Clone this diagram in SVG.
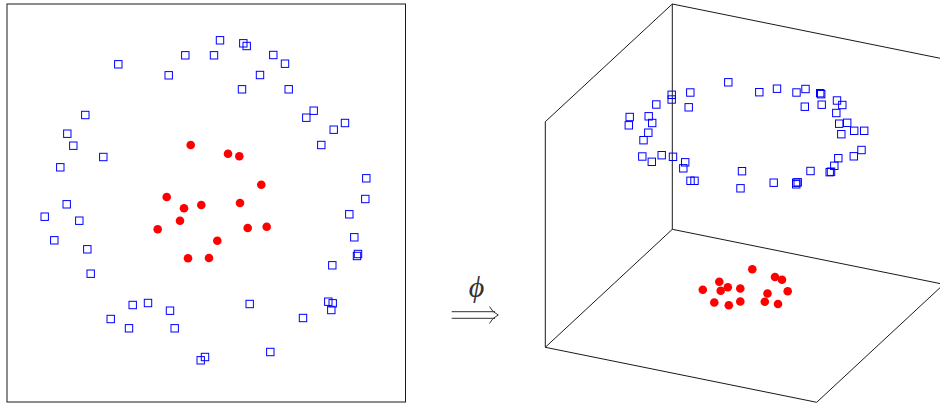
<svg xmlns="http://www.w3.org/2000/svg" width="940" height="403" viewBox="0 0 940 403">
<style>
.sq{fill:none;stroke:#0000ff;stroke-width:1}
.dot{fill:#ff0000;stroke:none}
.ln{fill:none;stroke:#1a1a1a;stroke-width:1}
.arr{fill:none;stroke:#333;stroke-width:1}
.phi{font-family:"Liberation Serif","DejaVu Serif",serif;font-style:italic;font-size:30px;fill:#333}
</style>
<defs>
<rect id="s" x="-3.7" y="-3.7" width="7.4" height="7.4" class="sq"/>
<circle id="d" r="4.3" class="dot"/>
</defs>
<rect width="940" height="403" fill="#fff"/>
<g id="input-space">
<rect class="ln" x="7" y="4" width="398.5" height="398"/>
<g id="input-squares">
<use href="#s" x="220" y="40.3"/><use href="#s" x="243.3" y="43.3"/><use href="#s" x="246.7" y="46"/>
<use href="#s" x="185.3" y="55.3"/><use href="#s" x="214" y="55.3"/><use href="#s" x="273.3" y="55"/>
<use href="#s" x="285" y="63.7"/><use href="#s" x="118.3" y="64.3"/><use href="#s" x="168.7" y="75.3"/>
<use href="#s" x="260" y="75"/><use href="#s" x="242" y="89.3"/><use href="#s" x="288.7" y="89.3"/>
<use href="#s" x="85.3" y="115"/><use href="#s" x="313.7" y="110.7"/><use href="#s" x="306.3" y="117.7"/>
<use href="#s" x="345" y="123"/><use href="#s" x="333.7" y="129.7"/><use href="#s" x="67.3" y="133.7"/>
<use href="#s" x="73.3" y="145.7"/><use href="#s" x="321.3" y="145"/><use href="#s" x="103.3" y="157"/>
<use href="#s" x="60.3" y="167.3"/><use href="#s" x="366.3" y="178.3"/><use href="#s" x="365.3" y="199"/>
<use href="#s" x="66.7" y="204.3"/><use href="#s" x="349.3" y="214.3"/><use href="#s" x="44.7" y="216.7"/>
<use href="#s" x="79.3" y="220.7"/><use href="#s" x="54.3" y="240.3"/><use href="#s" x="354.3" y="237.3"/>
<use href="#s" x="87.3" y="249.3"/><use href="#s" x="358" y="254"/><use href="#s" x="357" y="256"/>
<use href="#s" x="332.3" y="265.3"/><use href="#s" x="90.7" y="273.7"/><use href="#s" x="132.7" y="305"/>
<use href="#s" x="148" y="303"/><use href="#s" x="170" y="310.7"/><use href="#s" x="249.7" y="304"/>
<use href="#s" x="328.3" y="301.7"/><use href="#s" x="332.7" y="303.3"/><use href="#s" x="331.3" y="310"/>
<use href="#s" x="110.7" y="319"/><use href="#s" x="303" y="318"/><use href="#s" x="129" y="328.3"/>
<use href="#s" x="174.7" y="328.3"/><use href="#s" x="205" y="357"/><use href="#s" x="200.7" y="360.3"/>
<use href="#s" x="270.3" y="352"/>
</g>
<g id="input-dots">
<use href="#d" x="190.7" y="145"/><use href="#d" x="228" y="153.7"/><use href="#d" x="239.3" y="156.3"/>
<use href="#d" x="261.3" y="184.7"/><use href="#d" x="166.7" y="197"/><use href="#d" x="240" y="203"/>
<use href="#d" x="184" y="208.3"/><use href="#d" x="201.3" y="205"/><use href="#d" x="180" y="220.7"/>
<use href="#d" x="157.7" y="229.3"/><use href="#d" x="247.7" y="228"/><use href="#d" x="266.7" y="226.7"/>
<use href="#d" x="217.3" y="240.7"/><use href="#d" x="188" y="258.3"/><use href="#d" x="209" y="258"/>
</g>
</g>
<g id="mapping">
<text class="phi" x="476.5" y="297" text-anchor="middle">ϕ</text>
<path class="arr" d="M451.7 311.7H495M451.7 318.3H495M489.5 306.5Q492 312 498.3 315Q492 318 489.5 323.5"/>
</g>
<g id="feature-space">
<g id="cube">
<path class="ln" d="M672.3 4L943.7 59M672.3 4L545.3 121.7M672.3 4V229.3M545.3 121.7V347.3M672.3 229.3L545.3 347.3M672.3 229.3L943.7 284.3M545.3 347.3L816.7 402.3L943.7 284.3"/>
</g>
<g id="feature-squares">
<use href="#s" x="728.3" y="82.3"/><use href="#s" x="690.3" y="92.5"/><use href="#s" x="671.7" y="94.8"/>
<use href="#s" x="671.7" y="99.5"/><use href="#s" x="759.3" y="92.2"/><use href="#s" x="777" y="88.7"/>
<use href="#s" x="796.5" y="92.5"/><use href="#s" x="805.5" y="89"/><use href="#s" x="820.2" y="93.2"/>
<use href="#s" x="821.2" y="94.2"/><use href="#s" x="656.3" y="104.5"/><use href="#s" x="688.7" y="107.3"/>
<use href="#s" x="804.8" y="106.7"/><use href="#s" x="821.7" y="104.7"/><use href="#s" x="837" y="100.5"/>
<use href="#s" x="842.3" y="105"/><use href="#s" x="836.3" y="113"/><use href="#s" x="629.7" y="117"/>
<use href="#s" x="648.7" y="116.3"/><use href="#s" x="652.2" y="123"/><use href="#s" x="628.8" y="125.3"/>
<use href="#s" x="839.2" y="123.7"/><use href="#s" x="847.2" y="122.8"/><use href="#s" x="648.3" y="132.7"/>
<use href="#s" x="841.3" y="134.2"/><use href="#s" x="854.2" y="130.8"/><use href="#s" x="864.2" y="130.8"/>
<use href="#s" x="643.5" y="140.2"/><use href="#s" x="861.5" y="150"/><use href="#s" x="853.8" y="156.3"/>
<use href="#s" x="642.3" y="156.5"/><use href="#s" x="661.7" y="155.2"/><use href="#s" x="673" y="156.8"/>
<use href="#s" x="651.8" y="161.8"/><use href="#s" x="685.2" y="162.3"/><use href="#s" x="683.3" y="168.3"/>
<use href="#s" x="838.3" y="158.2"/><use href="#s" x="834.3" y="165.8"/><use href="#s" x="831" y="171.7"/>
<use href="#s" x="829.7" y="172.2"/><use href="#s" x="810.5" y="171"/><use href="#s" x="742" y="171.2"/>
<use href="#s" x="690.5" y="180.8"/><use href="#s" x="694.5" y="180.8"/><use href="#s" x="773.7" y="182.7"/>
<use href="#s" x="796.2" y="182.7"/><use href="#s" x="797.7" y="182.3"/><use href="#s" x="796.2" y="184.3"/>
<use href="#s" x="740.5" y="188.3"/>
</g>
<g id="feature-dots">
<use href="#d" x="752.3" y="269.3"/><use href="#d" x="775" y="277"/><use href="#d" x="782" y="279.7"/>
<use href="#d" x="719.3" y="281.7"/><use href="#d" x="727.8" y="287.2"/><use href="#d" x="720.7" y="290.7"/>
<use href="#d" x="702.8" y="289.8"/><use href="#d" x="740.3" y="288.5"/><use href="#d" x="767.5" y="293.5"/>
<use href="#d" x="787.7" y="291.2"/><use href="#d" x="714.3" y="302.5"/><use href="#d" x="728.8" y="305.3"/>
<use href="#d" x="740.3" y="301.5"/><use href="#d" x="764.8" y="301.8"/><use href="#d" x="778" y="304"/>
</g>
</g>
</svg>
